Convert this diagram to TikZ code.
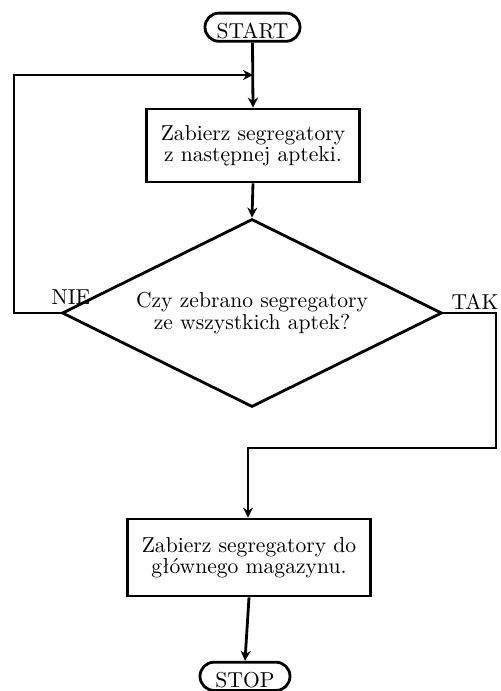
\documentclass[tikz,border=0pt]{standalone}
\usepackage{fontspec}
\usetikzlibrary{shapes.geometric,arrows.meta}
\begin{document}
\begin{tikzpicture}[x=0.5pt,y=-0.5pt,
  every node/.style={font=\fontsize{10.8pt}{10.6pt}\selectfont},
  ln/.style={line width=1.4pt},
  arr/.style={ln,-{Stealth[length=5pt,width=5pt]}},
  term/.style={draw,ln,rounded corners=7pt,inner sep=0pt,text height=12.5pt,text depth=1.6pt},
  proc/.style={draw,ln,align=center,inner ysep=0pt,inner xsep=7pt,minimum width=106pt},
  dec/.style={draw,ln,diamond,aspect=2,align=center,inner sep=0pt,minimum width=190pt,minimum height=94pt},
  lab/.style={anchor=base,inner sep=0pt}]
\useasboundingbox (0,0) rectangle (501,691);
\node[term,minimum width=47.5pt] (start) at (252.5,27.2) {START};
\node[proc,minimum height=36.5pt] (b1) at (253,145.5) {Zabierz segregatory\\z następnej apteki.};
\node[dec] (d) at (252,313) {Czy zebrano segregatory\\ze wszystkich aptek?};
\node[proc,minimum height=38.5pt] (b2) at (249,557.5) {Zabierz segregatory do\\głównego magazynu.};
\node[term,minimum width=45pt] (stop) at (245,676.3) {STOP};
\node[lab] (nie) at (71,304) {NIE};
\node[lab] (tak) at (475,309) {TAK};
\coordinate (lp) at (14,75);
\coordinate (j1) at (253,75);
\coordinate (r1) at (496,448);
\coordinate (r2) at (248,448);
\draw[arr] (start.south) -- (b1.north);
\draw[arr] (d.west) -| (lp) -- (j1);
\draw[arr] (b1.south) -- (d.north);
\draw[arr] (d.east) -| (r1) -- (r2) -- (r2 |- b2.north);
\draw[arr] (b2.south) -- (stop.north);
\end{tikzpicture}
\end{document}
